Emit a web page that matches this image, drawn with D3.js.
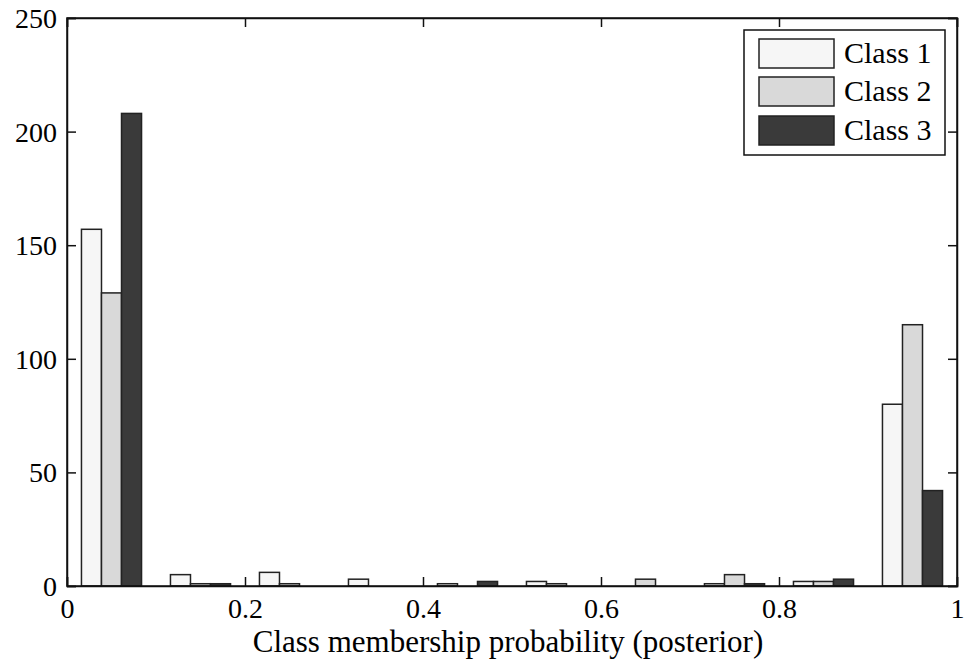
<!DOCTYPE html>
<html>
<head>
<meta charset="utf-8">
<script src="https://cdn.jsdelivr.net/npm/d3@7"></script>
</head>
<body style="margin:0">
<svg id="chart" width="964" height="666"></svg>
<script>
// ---- data ----
const binCenters = [0.05, 0.15, 0.25, 0.35, 0.45, 0.55, 0.65, 0.75, 0.85, 0.95];
const seriesNames = ["Class 1", "Class 2", "Class 3"];
const class1 = [157, 5, 6, 3, 1, 2, 0, 1, 2, 80];
const class2 = [129, 1, 1, 0, 0, 1, 3, 5, 2, 115];
const class3 = [208, 1, 0, 0, 2, 0, 0, 1, 3, 42];
const seriesColors = ["#f6f6f6", "#d9d9d9", "#3a3a3a"];
const xTicks = [0, 0.2, 0.4, 0.6, 0.8, 1];
const xTickLabels = ["0", "0.2", "0.4", "0.6", "0.8", "1"];
const yTicks = [0, 50, 100, 150, 200, 250];
const xLabel = "Class membership probability (posterior)";

const series = [class1, class2, class3];
const FONT = "'Liberation Serif'";

// ---- layout ----
const L = 67, R = 957, T = 18, B = 586;
const svg = d3.select("#chart");
const x = d3.scaleLinear().domain([0, 1]).range([L, R]);
const y = d3.scaleLinear().domain([0, 250]).range([B, T]);
const barW = 0.0225; // in data units

// bars
series.forEach((vals, si) => {
  svg.append("g")
    .selectAll("rect")
    .data(vals.map((v, i) => ({ c: binCenters[i], v })))
    .join("rect")
    .attr("x", d => x(d.c + (si - 1.5) * barW))
    .attr("width", d => x(d.c + (si - 0.5) * barW) - x(d.c + (si - 1.5) * barW))
    .attr("y", d => y(d.v))
    .attr("height", d => y(0) - y(d.v))
    .attr("fill", seriesColors[si])
    .attr("stroke", d => d.v > 0 ? "#222" : "none")
    .attr("stroke-width", 1.5);
});

// axes (inner ticks on all four sides)
const tickLen = 9;
const axisColor = "#111";
const gB = svg.append("g").attr("transform", `translate(0,${B})`)
  .call(d3.axisBottom(x).tickValues(xTicks).tickSize(-tickLen).tickFormat((d, i) => xTickLabels[i]));
const gT = svg.append("g").attr("transform", `translate(0,${T})`)
  .call(d3.axisTop(x).tickValues(xTicks).tickSize(-tickLen).tickFormat(""));
const gL = svg.append("g").attr("transform", `translate(${L},0)`)
  .call(d3.axisLeft(y).tickValues(yTicks).tickSize(-tickLen).tickPadding(10));
const gR = svg.append("g").attr("transform", `translate(${R},0)`)
  .call(d3.axisRight(y).tickValues(yTicks).tickSize(-tickLen).tickFormat(""));

[gB, gT, gL, gR].forEach(g => {
  g.attr("font-family", null);
  g.select(".domain").attr("stroke", axisColor).attr("stroke-width", 1.5);
  g.selectAll(".tick line").attr("stroke", axisColor).attr("stroke-width", 1.5);
});
gB.selectAll(".tick text").attr("font-family", FONT).attr("font-size", 28).attr("fill", "#000").attr("dy", null).attr("y", 32);
gL.selectAll(".tick text").attr("font-family", FONT).attr("font-size", 28).attr("fill", "#000").attr("dy", "0.34em");

svg.append("rect").attr("x", L).attr("y", T).attr("width", R - L).attr("height", B - T)
  .attr("fill", "none").attr("stroke", axisColor).attr("stroke-width", 1.5);

// x label
svg.append("text")
  .attr("x", (L + R) / 2 - 4).attr("y", 652)
  .attr("text-anchor", "middle")
  .attr("font-family", FONT)
  .attr("font-size", 31)
  .attr("fill", "#000")
  .text(xLabel);

// legend
const lg = svg.append("g");
lg.append("rect").attr("x", 744).attr("y", 30).attr("width", 201).attr("height", 125)
  .attr("fill", "#fff").attr("stroke", axisColor).attr("stroke-width", 1.5);
const legendRowY = [39, 77, 116];
seriesNames.forEach((name, i) => {
  lg.append("rect").attr("x", 759).attr("y", legendRowY[i]).attr("width", 75).attr("height", 29)
    .attr("fill", seriesColors[i]).attr("stroke", "#222").attr("stroke-width", 1.5);
  lg.append("text").attr("x", 844).attr("y", legendRowY[i] + 24)
    .attr("font-family", FONT).attr("font-size", 30).attr("fill", "#000").text(name);
});

// force layout of all text
svg.selectAll("text").each(function () { this.getComputedTextLength(); });
</script>
</body>
</html>
